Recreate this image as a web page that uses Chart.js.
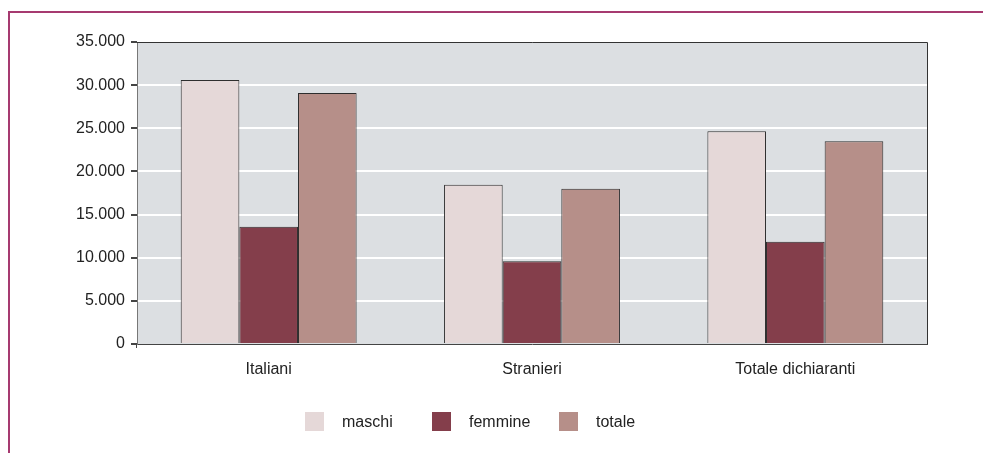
<!DOCTYPE html>
<html>
<head>
<meta charset="utf-8">
<script src="https://cdn.jsdelivr.net/npm/chart.js@4/dist/chart.umd.min.js"></script>
<style>
    body { margin: 0; background: #fff; font-family: "Liberation Sans", Arial, sans-serif; }
    #wrap { position: relative; width: 983px; height: 453px; }
    #frame { position: absolute; left: 8px; top: 11px; right: 0; bottom: 0;
             border-top: 2px solid #a63a70; border-left: 2px solid #a63a70; }
    #legend { position: absolute; left: 305px; top: 412px; display: flex; align-items: center;
              font-size: 16px; color: #222; }
    #legend .item { display: flex; align-items: center; width: 127px; }
    #legend .box { width: 19px; height: 19px; margin-right: 18px; }
</style>
</head>
<body>
<div id="wrap">
    <div id="frame"></div>
    <canvas id="chart" width="983" height="453"></canvas>
    <div id="legend"></div>
</div>
<script>
let categories = ["Italiani", "Stranieri", "Totale dichiaranti"];
let maschi = [30600, 18450, 24650];
let femmine = [13600, 9600, 11850];
let totale = [29100, 18000, 23500];
let seriesNames = ["maschi", "femmine", "totale"];
let seriesColors = ["#e5d8d8", "#843e4b", "#b68f89"];
let yTicks = [0, 5000, 10000, 15000, 20000, 25000, 30000, 35000];

function formatThousands(v) {
    return String(v).replace(/\B(?=(\d{3})+(?!\d))/g, ".");
}

// grey plot background + dark top/right edge
const plotFrame = {
    id: "plotFrame",
    beforeDraw(chart) {
        let a = chart.chartArea, ctx = chart.ctx;
        ctx.save();
        ctx.fillStyle = "#dcdfe2";
        ctx.fillRect(a.left, a.top, a.right - a.left, a.bottom - a.top);
        ctx.restore();
    },
    afterDraw(chart) {
        let a = chart.chartArea, ctx = chart.ctx;
        ctx.save();
        ctx.strokeStyle = "#333";
        ctx.lineWidth = 1;
        ctx.beginPath();
        ctx.moveTo(a.left, a.top + 0.5);
        ctx.lineTo(a.right + 0.5, a.top + 0.5);
        ctx.lineTo(a.right + 0.5, a.bottom);
        ctx.stroke();
        ctx.restore();
    }
};

let datasets = [maschi, femmine, totale].map((data, i) => ({
    label: seriesNames[i],
    data: data,
    backgroundColor: seriesColors[i],
    borderColor: "#2e2e2e",
    borderWidth: 1,
    barPercentage: 1,
    categoryPercentage: 0.668
}));

new Chart(document.getElementById("chart"), {
    type: "bar",
    data: { labels: categories, datasets: datasets },
    options: {
        responsive: false,
        animation: false,
        layout: { padding: { top: 42, right: 56, left: 0, bottom: 0 } },
        plugins: { legend: { display: false }, tooltip: { enabled: false } },
        scales: {
            x: {
                grid: {
                    offset: true,
                    drawOnChartArea: false,
                    tickLength: 4,
                    tickColor: c => (c.index === 0 || c.index === categories.length) ? "#444" : "rgba(0,0,0,0)"
                },
                border: { color: "#444", width: 1 },
                ticks: { color: "#222", padding: 12, font: { family: "Liberation Sans", size: 16 } },
                afterFit: s => { s.height = 109; }
            },
            y: {
                min: 0,
                max: 35000,
                afterBuildTicks: s => { s.ticks = yTicks.map(v => ({ value: v })); },
                grid: {
                    color: c => (c.tick && (c.tick.value === 0 || c.tick.value === 35000)) ? "rgba(0,0,0,0)" : "#ffffff",
                    lineWidth: 2,
                    tickLength: 6,
                    tickColor: "#444"
                },
                border: { color: "#777", width: 1 },
                ticks: {
                    color: "#222",
                    padding: 6,
                    font: { family: "Liberation Sans", size: 16 },
                    callback: v => formatThousands(v)
                },
                afterFit: s => { s.width = 137; }
            }
        }
    },
    plugins: [plotFrame]
});

let legend = document.getElementById("legend");
seriesNames.forEach((name, i) => {
    let item = document.createElement("div");
    item.className = "item";
    let box = document.createElement("span");
    box.className = "box";
    box.style.background = seriesColors[i];
    let txt = document.createElement("span");
    txt.textContent = name;
    item.appendChild(box);
    item.appendChild(txt);
    legend.appendChild(item);
});
</script>
</body>
</html>
